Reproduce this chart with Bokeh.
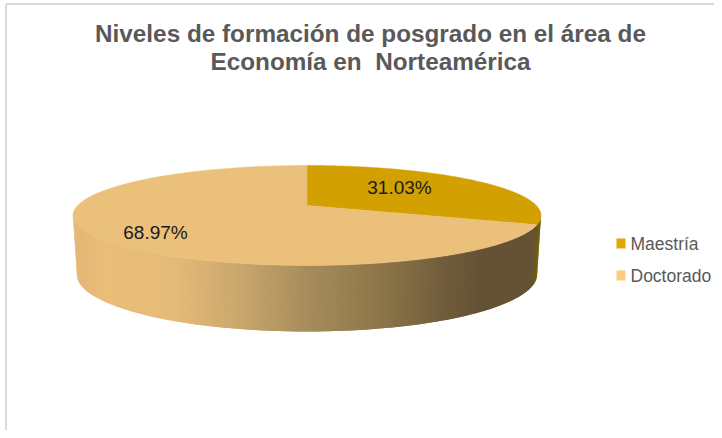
import numpy as np
from bokeh.plotting import figure
from bokeh.models import Range1d, Label
from bokeh.embed import file_html
from bokeh.resources import INLINE

# data
categories = ["Maestría", "Doctorado"]
shares = [31.03, 68.97]
share_labels = ["31.03%", "68.97%"]
title_lines = ["Niveles de formación de posgrado en el área de", "Economía en \u00a0Norteamérica"]

# look
top_colors = ["#D2A000", "#EBC07A"]
legend_colors = ["#E0A800", "#FFCB7F"]
TXT = "#595959"
W, H = 714, 430

p = figure(width=W, height=H, output_backend="svg", toolbar_location=None,
           x_range=Range1d(0, W), y_range=Range1d(H, 0),
           min_border=0, outline_line_color=None, background_fill_color="white")
p.xaxis.visible = False
p.yaxis.visible = False
p.xgrid.visible = False
p.ygrid.visible = False

# chart frame
p.line([5.5, 5.5], [H, 3.5], line_color="#D9D9D9", line_width=2)
p.line([5.5, W], [3.5, 3.5], line_color="#D9D9D9", line_width=2)


def project(theta, cx, cy, a, b, k=0.2):
    """Perspective view of a disc; theta is clockwise from the far side."""
    u, v = np.sin(theta), np.cos(theta)
    s = 1 / (1 + k * v)
    return cx + b * u * s, cy - a * v * s


TOP = dict(cx=306.5, cy=205, a=48, b=229.3)
BOT = dict(cx=306.5, cy=262.6, a=54.7, b=225.4)

boundary = 2 * np.pi * shares[0] / sum(shares)
left_end = 2 * np.pi - np.arccos(-0.2)
right_end = np.arccos(-0.2)


def lerp_hex(stops, x):
    xs = [s[0] for s in stops]
    rgb = [np.interp(x, xs, [int(s[1][i:i + 2], 16) for s in stops]) for i in (1, 3, 5)]
    return "#%02x%02x%02x" % tuple(int(round(c)) for c in rgb)


side_stops = [(73, "#E3B674"), (100, "#E9BE79"), (170, "#E6BB78"), (240, "#C9A66C"),
              (300, "#AA8F5D"), (380, "#8D7649"), (450, "#6F5B3A"), (480, "#655235"), (541, "#655235")]
strip_color = "#6A5500"

# side wall, front half only, as narrow overlapping facets
thetas = np.linspace(right_end, left_end, 241)
step = thetas[1] - thetas[0]
for t0 in thetas[:-1]:
    t1 = t0 + step
    t2 = min(t1 + step, left_end)
    xa0, ya0 = project(t0, **TOP)
    xa2, ya2 = project(t2, **TOP)
    xb0, yb0 = project(t0, **BOT)
    xb2, yb2 = project(t2, **BOT)
    xm, _ = project((t0 + t1) / 2, **TOP)
    col = strip_color if (t0 + t1) / 2 < boundary else lerp_hex(side_stops, xm)
    p.patch([xa0, xa2, xb2, xb0], [ya0, ya2, yb2, yb0], fill_color=col, line_color=None)

# top face
starts = [0.0, boundary]
ends = [boundary, 2 * np.pi]
for s, e, c in zip(starts, ends, top_colors):
    th = np.linspace(s, e, 240)
    xs, ys = project(th, **TOP)
    p.patch(np.r_[TOP["cx"], xs], np.r_[TOP["cy"], ys], fill_color=c, line_color=c, line_width=0.5)

# data labels
for txt, (x, y) in zip(share_labels, [(399, 187), (155, 232)]):
    p.add_layout(Label(x=x, y=y, text=txt, text_font="Liberation Sans", text_font_size="19px",
                       text_color="#1A1A1A", text_align="center", text_baseline="middle"))

# title
for txt, y in zip(title_lines, [33, 61]):
    p.add_layout(Label(x=370, y=y, text=txt, text_font="Liberation Sans", text_font_size="24.3px",
                       text_font_style="bold", text_color=TXT, text_align="center", text_baseline="middle"))

# legend
for name, c, y in zip(categories, legend_colors, [243, 275]):
    p.quad(left=616, right=625, top=y - 5, bottom=y + 5, fill_color=c, line_color=None)
    p.add_layout(Label(x=630, y=y, text=name, text_font="Liberation Sans", text_font_size="17.5px",
                       text_color=TXT, text_align="left", text_baseline="middle"))

open("out.html", "w").write(file_html(p, INLINE))
